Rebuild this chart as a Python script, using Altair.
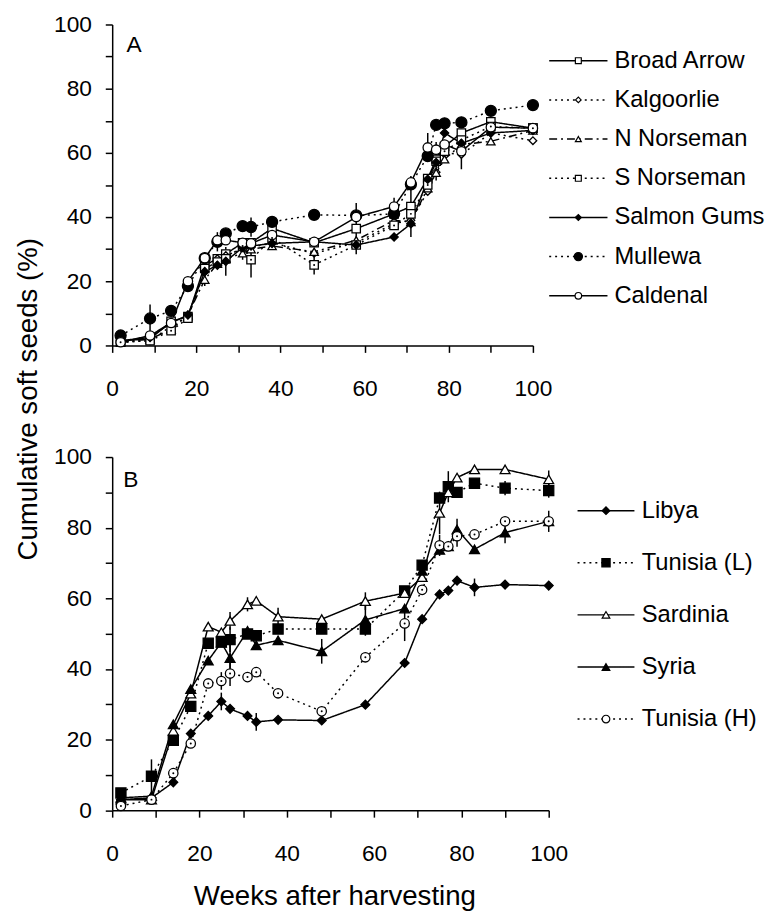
import altair as alt
import pandas as pd

FONT = "Liberation Sans, Arial, sans-serif"

# ---------------- data ----------------
weeks = [2, 9, 14, 18, 22, 25, 27, 31, 33, 38, 48, 58, 67, 71, 75, 77, 79, 83, 90, 100]

# Panel A
a_names = ["Broad Arrow", "Kalgoorlie", "N Norseman", "S Norseman", "Salmon Gums", "Mullewa", "Caldenal"]
broad_arrow = [1.5, 2.0, 7.5, 9.0, 25.0, 27.0, 28.5, 32.0, 32.0, 36.5, 32.0, 36.4, 41.0, 43.3, 52.0, 58.0, 62.0, 66.2, 69.7, 67.7]
kalgoorlie = [1.0, 1.5, 6.0, 9.0, 23.0, 27.0, 28.0, 30.0, 30.5, 32.0, 28.7, 32.0, 38.0, 39.0, 48.0, 54.0, 60.0, 59.5, 66.2, 63.8]
n_norseman = [1.0, 2.0, 5.0, 9.5, 20.5, 25.5, 27.0, 28.7, 30.0, 31.0, 29.2, 32.8, 39.0, 38.5, 49.0, 53.8, 58.0, 62.6, 63.6, 67.0]
s_norseman = [1.0, 1.5, 4.6, 8.5, 24.0, 26.0, 27.0, 31.0, 26.7, 33.5, 25.1, 31.3, 37.4, 41.0, 50.0, 57.4, 60.5, 64.0, 68.2, 67.7]
salmon_gums = [1.5, 2.5, 7.0, 9.5, 23.0, 25.0, 26.2, 30.5, 31.0, 31.8, 32.3, 31.3, 33.8, 37.9, 51.8, 57.0, 66.2, 63.0, 66.2, 67.0]
mullewa = [3.1, 8.4, 10.8, 18.5, 27.2, 32.3, 34.9, 37.2, 36.9, 38.5, 40.7, 40.5, 41.0, 50.2, 59.0, 68.7, 69.2, 69.5, 73.1, 74.9]
caldenal = [1.0, 3.1, 7.0, 20.0, 27.2, 32.8, 32.8, 32.0, 31.8, 34.4, 32.3, 40.0, 43.3, 50.8, 61.7, 61.0, 62.6, 60.5, 68.0, 67.7]

broad_arrow_err = [0, 0, 0, 0, 0, 0, 0, 0, 0, 2, 0, 8, 0, 9.5, 0, 0, 0, 0, 0, 0]
kalgoorlie_err = [0, 0, 0, 0, 0, 0, 0, 0, 0, 0, 0, 0, 0, 0, 0, 0, 0, 4.6, 0, 0]
n_norseman_err = [0, 0, 0, 0, 2, 0, 0, 2, 0, 0, 0, 0, 0, 0, 0, 0, 0, 0, 0, 0]
s_norseman_err = [0, 0, 0, 0, 0, 0, 0, 0, 5.5, 0, 3, 0, 0, 0, 0, 6, 0, 0, 0, 0]
salmon_gums_err = [0, 0, 0, 0, 0, 0, 4.5, 0, 0, 0, 0, 0, 0, 0, 0, 0, 0, 0, 0, 0]
mullewa_err = [0, 4.4, 0, 0, 0, 3, 0, 0, 3, 0, 0, 0, 5, 0, 0, 0, 0, 0, 0, 0]
caldenal_err = [0, 0, 0, 0, 0, 0, 0, 0, 0, 0, 0, 0, 0, 0, 4.5, 0, 0, 0, 0, 0]

# Panel B
b_names = ["Libya", "Tunisia (L)", "Sardinia", "Syria", "Tunisia (H)"]
libya = [3.0, 3.5, 7.9, 21.7, 26.7, 30.8, 28.7, 26.7, 25.0, 25.6, 25.4, 29.9, 41.7, 54.1, 61.1, 62.2, 65.0, 63.1, 63.9, 63.6]
tunisia_l = [4.9, 9.6, 19.8, 29.4, 47.3, 47.6, 48.3, 49.9, 49.4, 51.3, 51.3, 51.3, 62.1, 69.4, 88.4, 91.6, 90.0, 92.6, 91.2, 90.5]
sardinia = [3.0, 3.0, 22.5, 33.0, 52.0, 50.4, 53.6, 58.3, 59.3, 54.8, 54.1, 59.2, 61.5, 66.0, 84.2, 90.0, 94.2, 96.5, 96.5, 93.7]
syria = [3.5, 4.0, 24.3, 34.3, 42.4, 47.5, 43.1, 50.8, 46.7, 48.1, 45.0, 53.9, 57.1, 67.8, 73.7, 74.7, 79.5, 73.9, 78.6, 81.8]
tunisia_h = [1.2, 3.0, 10.5, 18.9, 35.9, 36.6, 38.7, 37.7, 39.1, 33.1, 28.0, 43.3, 52.9, 62.4, 75.0, 74.7, 77.6, 78.1, 81.8, 81.8]

libya_err = [0, 0, 0, 0, 0, 2.5, 0, 0, 2.5, 0, 0, 0, 0, 0, 0, 0, 0, 2.5, 0, 0]
tunisia_l_err = [0, 4.8, 0, 0, 0, 0, 3.5, 0, 0, 0, 0, 0, 0, 0, 0, 4.4, 0, 0, 2, 2]
sardinia_err = [0, 0, 0, 0, 0, 0, 2.5, 2, 0, 2.5, 0, 2.5, 0, 0, 6, 0, 0, 0, 0, 2.5]
syria_err = [0, 0, 0, 0, 0, 0, 4, 0, 0, 0, 3.5, 4.5, 0, 0, 0, 0, 3, 0, 3, 3]
tunisia_h_err = [0, 0, 0, 0, 0, 2.5, 3.5, 0, 0, 0, 0, 0, 5, 0, 3, 0, 3, 0, 0, 0]

tick_values = [0, 10, 20, 30, 40, 50, 60, 70, 80, 90, 100]


def build_df(names, values, errors):
    rows = []
    for n, vals, errs in zip(names, values, errors):
        for w, v, e in zip(weeks, vals, errs):
            rows.append({"series": n, "week": w, "value": v, "lo": v - e, "hi": v + e, "err": e})
    return pd.DataFrame(rows)


def size_expr(names, sizes):
    expr = str(sizes[-1])
    for n, s in zip(reversed(names[:-1]), reversed(sizes[:-1])):
        expr = f"datum.series === '{n}' ? {s} : ({expr})"
    return expr


LEXPR = "datum.value % 20 === 0 ? datum.label : ''"


def panel(df, names, shapes, fills, dashes, sizes, leg_sizes, dotted, w, h,
          xaxis, yaxis, leg_range, leg_x, label, label_pos):
    dash_s = alt.Scale(domain=names, range=dashes)
    shape_s = alt.Scale(domain=names, range=shapes)
    fill_s = alt.Scale(domain=names, range=fills)
    xs = alt.Scale(domain=[0, 100], nice=False, zero=False)
    ys = alt.Scale(domain=[0, 100], nice=False)
    X = alt.X("week:Q", scale=xs, axis=xaxis)
    Y = alt.Y("value:Q", scale=ys, axis=yaxis)
    base = alt.Chart(df)

    err = base.transform_filter("datum.err > 0").mark_rule(
        color="black", strokeWidth=1.5
    ).encode(x=X, y=alt.Y("lo:Q", scale=ys, axis=yaxis), y2="hi:Q")

    lines = base.mark_line(color="black", strokeWidth=1.5).encode(
        x=X, y=Y, detail="series:N", order="week:Q",
        strokeDash=alt.StrokeDash("series:N", scale=dash_s, legend=None),
    )
    pts = base.transform_calculate(psize=size_expr(names, sizes)).mark_point(
        filled=True, stroke="black", strokeWidth=1.3, opacity=1
    ).encode(
        x=X, y=Y,
        shape=alt.Shape("series:N", scale=shape_s, legend=None),
        fill=alt.Fill("series:N", scale=fill_s, legend=None),
        size=alt.Size("psize:Q", scale=None),
    )
    layers = [err, lines, pts]
    if dotted:
        dots = base.transform_filter(
            alt.FieldOneOfPredicate(field="series", oneOf=dotted)
        ).mark_point(filled=True, color="black", size=4, shape="circle", opacity=1).encode(x=X, y=Y)
        layers.append(dots)
    data_layer = alt.layer(*layers)

    legdf = pd.DataFrame({"series": names, "row": list(range(len(names)))})
    LY = alt.Y("row:Q", scale=alt.Scale(domain=[0, len(names) - 1], range=leg_range,
                                        nice=False, zero=False), axis=None)
    x0, x1, xm, xt = leg_x
    leg_rule = alt.Chart(legdf).mark_rule(color="black", strokeWidth=1.5).encode(
        x=alt.value(x0), x2=alt.value(x1), y=LY,
        strokeDash=alt.StrokeDash("series:N", scale=dash_s, legend=None),
    )
    leg_pts = alt.Chart(legdf).transform_calculate(lsize=size_expr(names, leg_sizes)).mark_point(
        filled=True, stroke="black", strokeWidth=1.2, opacity=1
    ).encode(
        x=alt.value(xm), y=LY,
        shape=alt.Shape("series:N", scale=shape_s, legend=None),
        fill=alt.Fill("series:N", scale=fill_s, legend=None),
        size=alt.Size("lsize:Q", scale=None),
    )
    leg_txt = alt.Chart(legdf).mark_text(
        align="left", baseline="middle", fontSize=24, font=FONT, color="black"
    ).encode(x=alt.value(xt), y=LY, text="series:N")
    lab = alt.Chart(pd.DataFrame({"t": [label]})).mark_text(
        align="left", baseline="alphabetic", fontSize=23, font=FONT, color="black"
    ).encode(x=alt.value(label_pos[0]), y=alt.value(label_pos[1]), text="t:N")
    leg_layer = alt.layer(leg_rule, leg_pts, leg_txt, lab)

    return alt.layer(data_layer, leg_layer).resolve_scale(y="independent").properties(width=w, height=h)


df_a = build_df(
    a_names,
    [broad_arrow, kalgoorlie, n_norseman, s_norseman, salmon_gums, mullewa, caldenal],
    [broad_arrow_err, kalgoorlie_err, n_norseman_err, s_norseman_err, salmon_gums_err, mullewa_err, caldenal_err],
)
df_b = build_df(
    b_names,
    [libya, tunisia_l, sardinia, syria, tunisia_h],
    [libya_err, tunisia_l_err, sardinia_err, syria_err, tunisia_h_err],
)

DOT = [2, 4]
SOLID = [1, 0]

ax_a_x = alt.Axis(values=tick_values, labelExpr=LEXPR, labelFlush=False, labelOverlap=False,
                  labelPadding=26, title="")
ax_a_y = alt.Axis(values=tick_values, labelExpr=LEXPR, labelFlush=False, labelOverlap=False,
                  labelPadding=14, title="Cumulative soft seeds (%)", titleX=-77, titleY=379,
                  titleAngle=270, titleAlign="center", titleBaseline="alphabetic")
ax_b_x = alt.Axis(values=tick_values, labelExpr=LEXPR, labelFlush=False, labelOverlap=False,
                  labelPadding=26, title="Weeks after harvesting", titleX=225, titleY=95,
                  titleAlign="center", titleBaseline="alphabetic")
ax_b_y = alt.Axis(values=tick_values, labelExpr=LEXPR, labelFlush=False, labelOverlap=False,
                  labelPadding=14, title="")

chart_a = panel(
    df_a, a_names,
    ["square", "diamond", "triangle-up", "square", "diamond", "circle", "circle"],
    ["white", "white", "white", "white", "black", "black", "white"],
    [SOLID, DOT, [8, 4, 2, 4], DOT, SOLID, DOT, SOLID],
    [72, 60, 72, 72, 70, 125, 90],
    [36, 32, 36, 36, 36, 70, 44],
    ["S Norseman"],
    426, 325, ax_a_x, ax_a_y,
    [36.7, 274.7], (442.5, 501.5, 472, 508.5), "A", (14.5, 27.7),
)
chart_b = panel(
    df_b, b_names,
    ["diamond", "square", "triangle-up", "triangle-up", "circle"],
    ["black", "black", "white", "black", "white"],
    [SOLID, DOT, SOLID, SOLID, DOT],
    [80, 105, 100, 100, 90],
    [60, 70, 60, 60, 60],
    ["Tunisia (H)"],
    442, 357.6, ax_b_x, ax_b_y,
    [54.3, 265.3], (471.2, 528.8, 500, 536.2), "B", (11.2, 30),
)

chart = alt.vconcat(chart_a, chart_b, spacing=113, bounds="flush").resolve_scale(
    shape="independent", fill="independent", strokeDash="independent"
).properties(
    padding={"left": 6.5, "top": 0, "right": 0, "bottom": 0}
).configure_view(stroke=None).configure_axis(
    labelFont=FONT, labelFontSize=23, labelColor="black",
    domainColor="black", domainWidth=1.5, tickColor="black", tickWidth=1.5, tickSize=7,
    grid=False, titleFont=FONT, titleFontSize=28, titleFontWeight="normal", titleColor="black",
)

chart.save("out.html", embed_options={"renderer": "svg", "actions": False})
